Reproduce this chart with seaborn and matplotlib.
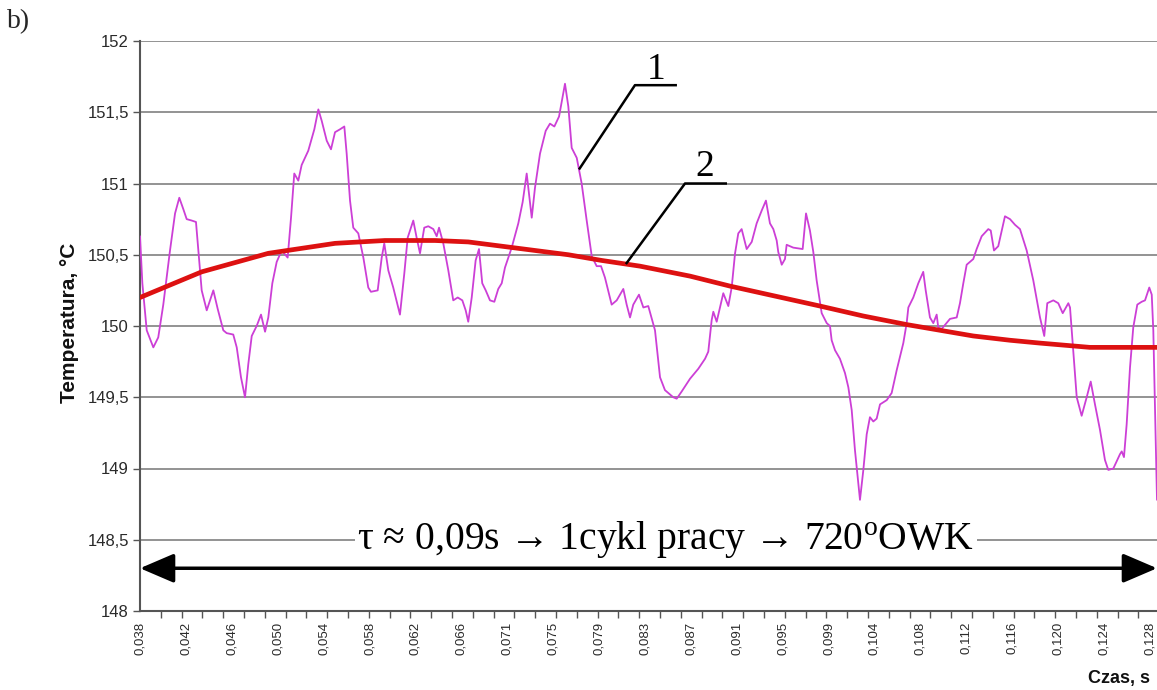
import numpy as np
import pandas as pd
import matplotlib
matplotlib.use("Agg")
import matplotlib.pyplot as plt
import seaborn as sns

# Przebieg 1: temperatura chwilowa (czas w ms)
czas_ms_1 = [
    38.00, 38.21, 38.60, 39.19, 39.63, 40.08, 40.68, 41.13, 41.51, 41.87,
    42.17, 42.62, 43.00, 43.21, 43.51, 43.96, 44.25, 44.55, 44.94, 45.44,
    45.74, 46.33, 46.64, 47.02, 47.38, 47.67, 47.98, 48.42, 48.81, 49.17,
    49.46, 49.82, 50.21, 50.66, 51.19, 51.49, 51.78, 52.14, 52.44, 53.03,
    53.57, 53.93, 54.23, 54.68, 55.06, 55.42, 55.86, 56.25, 56.46, 56.76,
    57.05, 57.50, 57.95, 58.39, 58.63, 59.23, 59.59, 59.82, 60.18, 60.62,
    61.22, 61.61, 61.91, 62.41, 62.71, 63.01, 63.39, 63.75, 64.20, 64.50,
    64.71, 65.09, 65.54, 65.98, 66.38, 66.79, 67.09, 67.32, 67.63, 67.98,
    68.28, 68.57, 68.88, 69.26, 69.65, 70.00, 70.31, 70.60, 71.20, 71.79,
    72.18, 72.54, 72.99, 73.28, 73.73, 74.24, 74.62, 75.01, 75.43, 75.96,
    76.26, 76.56, 77.01, 77.45, 77.90, 78.35, 78.79, 79.18, 79.53, 80.13,
    80.58, 81.17, 81.47, 81.77, 82.06, 82.57, 82.96, 83.40, 84.00, 84.45,
    84.89, 85.63, 85.94, 86.38, 87.13, 87.87, 88.47, 88.76, 89.06, 89.21,
    89.51, 89.81, 90.10, 90.55, 90.85, 91.15, 91.44, 91.74, 92.19, 92.64,
    93.08, 93.53, 93.91, 94.27, 94.57, 94.87, 95.01, 95.32, 95.61, 95.76,
    96.35, 97.19, 97.49, 97.84, 98.14, 98.44, 98.89, 99.34, 99.63, 99.78,
    100.08, 100.52, 100.97, 101.27, 101.57, 101.86, 102.31, 102.61, 102.91, 103.20,
    103.50, 103.80, 104.10, 104.70, 105.14, 105.59, 106.18, 106.48, 106.63, 107.07,
    107.52, 107.96, 108.18, 108.56, 108.86, 109.16, 109.30, 109.61, 110.35, 110.95,
    111.24, 111.54, 111.84, 112.43, 112.73, 113.18, 113.77, 113.99, 114.28, 114.66,
    114.97, 115.26, 115.71, 116.16, 116.60, 117.20, 117.79, 118.39, 118.77, 119.04,
    119.58, 120.02, 120.42, 120.92, 121.07, 121.36, 121.67, 122.11, 122.56, 122.92,
    123.30, 123.75, 124.19, 124.49, 124.94, 125.53, 125.69, 125.89, 126.13, 126.43,
    126.72, 127.08, 127.47, 127.77, 128.15, 128.37, 128.51, 128.72, 128.84,
]
temp_1 = [
    150.63, 150.30, 149.97, 149.85, 149.92, 150.15, 150.53, 150.79, 150.90, 150.82,
    150.75, 150.74, 150.73, 150.53, 150.25, 150.11, 150.18, 150.25, 150.12, 149.97,
    149.95, 149.94, 149.85, 149.64, 149.50, 149.73, 149.93, 150.00, 150.08, 149.96,
    150.06, 150.30, 150.45, 150.53, 150.48, 150.76, 151.07, 151.02, 151.13, 151.23,
    151.38, 151.52, 151.44, 151.30, 151.24, 151.36, 151.38, 151.40, 151.21, 150.88,
    150.69, 150.65, 150.48, 150.27, 150.24, 150.25, 150.48, 150.58, 150.39, 150.27,
    150.08, 150.37, 150.62, 150.74, 150.62, 150.51, 150.69, 150.70, 150.68, 150.63,
    150.69, 150.58, 150.39, 150.18, 150.20, 150.18, 150.11, 150.03, 150.20, 150.46,
    150.54, 150.30, 150.25, 150.18, 150.17, 150.26, 150.30, 150.41, 150.55, 150.72,
    150.87, 151.07, 150.76, 150.97, 151.21, 151.37, 151.42, 151.40, 151.47, 151.70,
    151.54, 151.25, 151.18, 151.00, 150.74, 150.49, 150.42, 150.42, 150.34, 150.15,
    150.18, 150.26, 150.15, 150.06, 150.15, 150.22, 150.13, 150.14, 149.97, 149.64,
    149.55, 149.50, 149.49, 149.54, 149.63, 149.70, 149.77, 149.82, 150.04, 150.10,
    150.03, 150.13, 150.23, 150.14, 150.27, 150.51, 150.65, 150.68, 150.54, 150.59,
    150.72, 150.81, 150.88, 150.72, 150.68, 150.60, 150.52, 150.43, 150.47, 150.57,
    150.55, 150.54, 150.79, 150.67, 150.52, 150.32, 150.09, 150.02, 150.00, 149.90,
    149.83, 149.77, 149.67, 149.57, 149.41, 149.13, 148.78, 148.99, 149.24, 149.36,
    149.33, 149.35, 149.45, 149.48, 149.53, 149.69, 149.88, 150.02, 150.13, 150.20,
    150.30, 150.38, 150.25, 150.06, 150.02, 150.08, 149.99, 149.98, 150.05, 150.06,
    150.16, 150.30, 150.43, 150.47, 150.54, 150.63, 150.68, 150.67, 150.53, 150.56,
    150.67, 150.77, 150.75, 150.71, 150.68, 150.53, 150.32, 150.06, 149.93, 150.16,
    150.18, 150.16, 150.09, 150.16, 150.13, 149.83, 149.50, 149.37, 149.50, 149.61,
    149.45, 149.27, 149.06, 148.99, 149.00, 149.10, 149.12, 149.08, 149.31, 149.71,
    149.99, 150.15, 150.17, 150.18, 150.27, 150.22, 149.97, 149.22, 148.78,
]

# Przebieg 2: temperatura uśredniona
czas_ms_2 = [
    38.00, 43.51, 49.46, 55.42, 59.88, 64.35, 67.32, 70.31, 73.28, 76.26,
    79.24, 82.66, 87.13, 90.70, 94.72, 98.74, 102.61, 106.48, 112.43, 115.71,
    118.39, 122.85, 128.84,
]
temp_2 = [
    150.20, 150.38, 150.51, 150.58, 150.60, 150.60, 150.59, 150.56, 150.53, 150.50,
    150.46, 150.42, 150.35, 150.28, 150.21, 150.14, 150.07, 150.01, 149.93, 149.90,
    149.88, 149.85, 149.85,
]

# Opisy osi
pozycje_x_ms = [
    38.0, 42.1, 46.2, 50.3, 54.4, 58.5, 62.6, 66.7, 70.8, 74.9, 79.0, 83.1,
    87.2, 91.3, 95.4, 99.5, 103.6, 107.7, 111.8, 115.9, 120.0, 124.1, 128.2,
]
etykiety_x = [
    "0,038", "0,042", "0,046", "0,050", "0,054", "0,058", "0,062", "0,066",
    "0,071", "0,075", "0,079", "0,083", "0,087", "0,091", "0,095", "0,099",
    "0,104", "0,108", "0,112", "0,116", "0,120", "0,124", "0,128",
]
wartosci_y = [148.0, 148.5, 149.0, 149.5, 150.0, 150.5, 151.0, 151.5, 152.0]
etykiety_y = ["148", "148,5", "149", "149,5", "150", "150,5", "151", "151,5", "152"]

sns.set_theme(style="white")
plt.rcParams["font.family"] = ["Liberation Sans", "DejaVu Sans"]
plt.rcParams["mathtext.fontset"] = "custom"
plt.rcParams["mathtext.rm"] = "Liberation Serif"
plt.rcParams["mathtext.it"] = "Liberation Serif:italic"

SERIF = ["Liberation Serif", "DejaVu Serif"]
W, H = 1157, 690
fig = plt.figure(figsize=(W / 100, H / 100), dpi=100)
fig.patch.set_facecolor("white")
ax = fig.add_axes([140 / W, 1 - 611 / H, 1 - 140 / W, (611 - 41) / H])

df1 = pd.DataFrame({"czas": czas_ms_1, "temp": temp_1})
df2 = pd.DataFrame({"czas": czas_ms_2, "temp": temp_2})
sns.lineplot(data=df1, x="czas", y="temp", ax=ax, color="#CC3FD6",
             linewidth=1.3, estimator=None, sort=False, zorder=3)
sns.lineplot(data=df2, x="czas", y="temp", ax=ax, color="#DD1111",
             linewidth=3.4, estimator=None, sort=False, zorder=4)

ax.set_xlim(38.0, 128.84)
ax.set_ylim(148.0, 152.0)
ax.set_xlabel("")

ax.set_yticks(wartosci_y)
ax.set_yticklabels(etykiety_y)
ax.set_xticks(pozycje_x_ms)
ax.set_xticklabels(etykiety_x, rotation=90)
ax.set_xticks(np.arange(38.0, 128.9, 1.858), minor=True)

ax.tick_params(axis="x", which="major", length=0, pad=8, labelsize=9.5,
               labelcolor="#2a2a2a")
ax.tick_params(axis="x", which="minor", length=5, width=1.0, color="#555555",
               direction="out", bottom=True)
ax.tick_params(axis="y", which="major", length=5, width=1.0, color="#555555",
               direction="out", left=True, pad=3, labelsize=12,
               labelcolor="#2a2a2a")

ax.yaxis.grid(True, color="#808080", linewidth=1.2, zorder=0)
ax.xaxis.grid(False)
for s in ["top", "right"]:
    ax.spines[s].set_visible(False)
for s in ["left", "bottom"]:
    ax.spines[s].set_color("#555555")
    ax.spines[s].set_linewidth(1.5)

ax.set_ylabel("Temperatura, °C", fontsize=15, fontweight="bold", color="#111111")
ax.yaxis.set_label_coords((79 - 140) / (W - 140), 0.505)
fig.text(1150 / W, 1 - 679 / H, "Czas, s", ha="right", va="center",
         fontsize=13, fontweight="bold", color="#111111")
fig.text(7 / W, 1 - 22 / H, "b)", ha="left", va="center", fontsize=20,
         family=SERIF)

# Zakres jednego cyklu pracy
ax.annotate("", xy=(0.0, 148.3), xytext=(1.0, 148.3),
            xycoords=("axes fraction", "data"),
            arrowprops=dict(arrowstyle="<|-|>,head_length=1.05,head_width=0.45",
                            mutation_scale=20, lw=2.5, color="black",
                            shrinkA=0, shrinkB=0),
            annotation_clip=False, zorder=6)
ax.text(84.98, 148.50, "τ ≈ 0,09s → 1cykl pracy → 720$^{\\mathrm{o}}$OWK ",
        ha="center", va="center", fontsize=28.5, family=SERIF, color="black",
        bbox=dict(facecolor="white", edgecolor="none", pad=1.5), zorder=5)

# Oznaczenia przebiegów
t1 = 77.21
y1 = np.interp(t1, czas_ms_1, temp_1)
ax.plot([t1, 82.21, 85.96], [y1, 151.69, 151.69], color="black", lw=1.8,
        zorder=6, solid_capstyle="butt")
ax.text(84.09, 151.80, "1", ha="center", va="center", fontsize=27,
        family=SERIF, color="black")

t2 = 81.40
y2 = np.interp(t2, czas_ms_2, temp_2)
ax.plot([t2, 86.68, 90.43], [y2, 151.00, 151.00], color="black", lw=1.8,
        zorder=6, solid_capstyle="butt")
ax.text(88.47, 151.12, "2", ha="center", va="center", fontsize=27,
        family=SERIF, color="black")

fig.savefig("out.png", dpi=100, facecolor="white")
